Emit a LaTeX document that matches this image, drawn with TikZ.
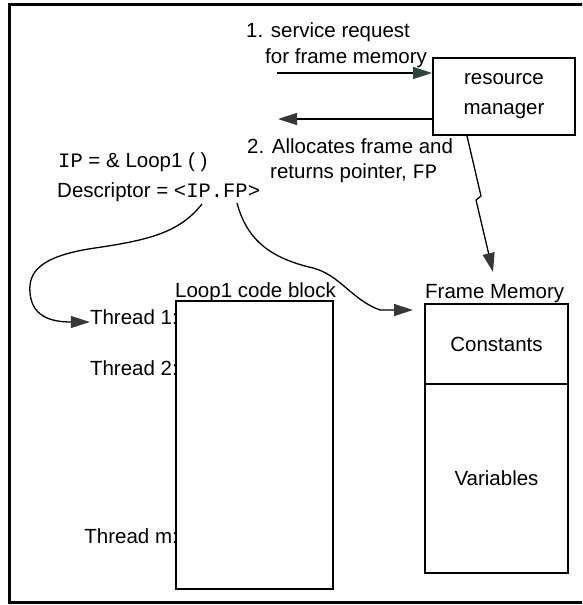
\documentclass[tikz,border=0pt]{standalone}
\usepackage{fontspec}
\setmainfont{Liberation Sans}
\setmonofont{Liberation Mono}
\usetikzlibrary{arrows.meta}
\definecolor{headgray}{RGB}{55,55,55}
\definecolor{headgreen}{RGB}{40,72,60}
\begin{document}
\begin{tikzpicture}[x=1pt,y=-1pt,
  every node/.style={font=\fontsize{20.5}{24}\selectfont, inner sep=0pt},
  box/.style={draw, line width=2pt, anchor=north west},
  lbl/.style={anchor=base west},
  conn/.style={line width=1.3pt},
  arr/.style={conn, -{Triangle[length=19pt,width=12pt,color=headgray]}},
  arrgreen/.style={conn, -{Triangle[length=19pt,width=12pt,color=headgreen]}},
]
\useasboundingbox (0,0) rectangle (582,605);
\clip (0,0) rectangle (582,605);
% outer frame
\draw[line width=3pt] (9,4) rectangle (600,602);

% resource manager and the request / reply arrows
\node[box, minimum width=142pt, minimum height=77pt, align=center,
      font=\fontsize{20.5}{30}\selectfont] (rm) at (432,57) {resource\\manager};
\node[lbl] (req1) at (246,37) {1. service request};
\node[lbl] (req2) at (265,63) {for frame memory};
\coordinate (reqstart) at (277,73);
\draw[arrgreen] (reqstart) -- (reqstart -| rm.west);
\coordinate (retend) at (278,119);
\draw[arr] (retend -| rm.west) -- (retend);
\node[lbl] (alloc1) at (247,153) {2. Allocates frame and};
\node[lbl] (alloc2) at (270,178) {returns pointer, \texttt{FP}};

% descriptor
\node[lbl] (ipdef) at (58,167) {\texttt{IP} = \& Loop1 ( )};
\node[lbl] (desc) at (57,197) {Descriptor = \texttt{<IP.FP>}};

% code block with thread entry points
\node[box, minimum width=157pt, minimum height=288pt] (code) at (175,300) {};
\node[anchor=base west] (codelbl) at (175,297) {Loop1 code block};
\node[anchor=base east] (t1) at (178,324) {Thread 1:};
\node[anchor=base east] (t2) at (178,375) {Thread 2:};
\node[anchor=base east] (tm) at (178,543) {Thread m:};

% frame memory
\node[box, minimum width=143pt, minimum height=80pt] (const) at (424,303) {Constants};
\node[box, minimum width=143pt, minimum height=189pt] (vars) at (424,383) {Variables};
\node[anchor=base west] (fmlbl) at (425,298) {Frame Memory};

% pointers out of the descriptor
\coordinate (ipsrc) at (202,204);
\draw[arr] (ipsrc) .. controls (180,232) and (150,240) .. (95,248)
  .. controls (40,256) and (28,272) .. (30,293)
  .. controls (32,316) and (50,322) .. ([yshift=2pt]t1.base west);
\coordinate (fpsrc) at (237,203);
\draw[arr] (fpsrc) .. controls (247,240) and (270,258) .. (313,268)
  .. controls (340,275) and (352,300) .. (380,310)
  -- ([xshift=-11pt,yshift=-7pt]const.north west);

% allocation link from the resource manager to frame memory
\coordinate (fmtip) at (493,272);
\draw[arr] ([xshift=-37pt]rm.south) -- (481,196) -- (476,200) -- (fmtip);
\end{tikzpicture}
\end{document}
